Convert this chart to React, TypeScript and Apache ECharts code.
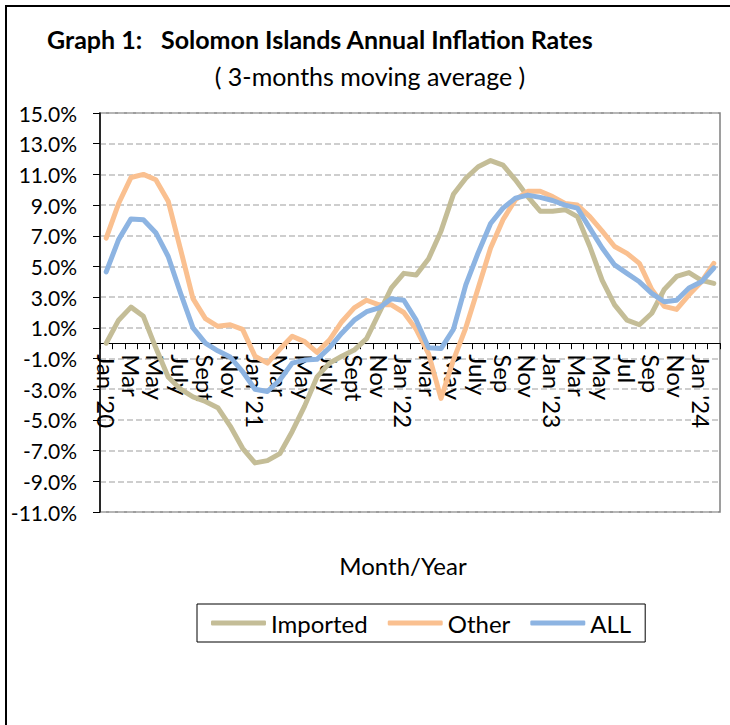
import React, { useEffect, useRef } from 'react';
import * as echarts from 'echarts';

const categories = [
  '2020-01', '2020-02', '2020-03', '2020-04', '2020-05', '2020-06', '2020-07', '2020-08', '2020-09', '2020-10', '2020-11', '2020-12',
  '2021-01', '2021-02', '2021-03', '2021-04', '2021-05', '2021-06', '2021-07', '2021-08', '2021-09', '2021-10', '2021-11', '2021-12',
  '2022-01', '2022-02', '2022-03', '2022-04', '2022-05', '2022-06', '2022-07', '2022-08', '2022-09', '2022-10', '2022-11', '2022-12',
  '2023-01', '2023-02', '2023-03', '2023-04', '2023-05', '2023-06', '2023-07', '2023-08', '2023-09', '2023-10', '2023-11', '2023-12',
  '2024-01', '2024-02',
];

const tickLabels = [
  "Jan '20", 'Mar', 'May', 'July', 'Sept', 'Nov',
  "Jan '21", 'Mar', 'May', 'July', 'Sept', 'Nov',
  "Jan '22", 'Mar', 'May', 'July', 'Sep', 'Nov',
  "Jan '23", 'Mar', 'May', 'Jul', 'Sep', 'Nov',
  "Jan '24",
];

const imported = [
  0.0, 1.5, 2.35, 1.75, -0.3, -2.2, -3.0, -3.5, -3.8, -4.2, -5.4, -6.85,
  -7.8, -7.65, -7.2, -5.75, -4.1, -2.2, -1.3, -0.85, -0.45, 0.3, 1.95, 3.6,
  4.55, 4.45, 5.5, 7.3, 9.7, 10.75, 11.5, 11.9, 11.6, 10.65, 9.55, 8.6,
  8.6, 8.7, 8.25, 6.3, 4.1, 2.5, 1.5, 1.2, 1.95, 3.5, 4.35, 4.6,
  4.1, 3.9,
];

const other = [
  6.85, 9.1, 10.8, 11.0, 10.65, 9.25, 6.1, 2.9, 1.6, 1.1, 1.2, 0.9,
  -0.85, -1.3, -0.4, 0.45, 0.1, -0.6, 0.2, 1.4, 2.3, 2.8, 2.5, 2.5,
  2.0, 0.9, -0.7, -3.6, -1.1, 1.0, 3.6, 6.2, 8.05, 9.35, 9.9, 9.9,
  9.55, 9.1, 9.0, 8.25, 7.3, 6.3, 5.85, 5.2, 3.5, 2.4, 2.2, 3.15,
  4.0, 5.2,
];

const all = [
  4.65, 6.75, 8.1, 8.05, 7.2, 5.65, 3.25, 1.0, 0.0, -0.5, -0.9, -1.85,
  -3.0, -3.15, -2.4, -1.3, -1.1, -1.05, -0.3, 0.65, 1.5, 2.05, 2.3, 2.9,
  2.8, 1.5, -0.3, -0.35, 0.9, 3.8, 5.9, 7.8, 8.8, 9.45, 9.65, 9.5,
  9.3, 9.0, 8.8, 7.5, 6.2, 5.1, 4.55, 4.0, 3.25, 2.7, 2.8, 3.6,
  4.0, 4.9,
];

const seriesNames = ['Imported', 'Other', 'ALL'];
const seriesColors = ['#C4BD97', '#FAC090', '#8DB4E2'];

const FONT = 'Lato';
const Y_MIN = -11;
const Y_MAX = 15;
const GRID_TOP = 113;
const GRID_BOTTOM = 213;
const CHART_H = 725;

export default function App() {
  const ref = useRef<HTMLDivElement>(null);

  useEffect(() => {
    const chart = echarts.init(ref.current!, null, { renderer: 'svg' });
    const datasets = [imported, other, all];
    const plotH = CHART_H - GRID_TOP - GRID_BOTTOM;
    // distance from bottom of plot to the 0% line, so the category axis sits at zero
    const zeroOffset = (plotH * (0 - Y_MIN)) / (Y_MAX - Y_MIN);
    const option: any = {
      animation: false,
      backgroundColor: '#ffffff',
      textStyle: { fontFamily: FONT },
      grid: {
        left: 100,
        right: 10,
        top: GRID_TOP,
        bottom: GRID_BOTTOM,
        show: true,
        borderColor: '#7f7f7f',
        borderWidth: 1.5,
        containLabel: false,
      },
      legend: {
        left: 197,
        top: 604,
        orient: 'horizontal',
        data: seriesNames,
        icon: 'roundRect',
        itemWidth: 55,
        itemHeight: 5,
        itemGap: 20,
        padding: [7, 14],
        borderColor: '#000000',
        borderWidth: 1,
        textStyle: { fontFamily: FONT, fontSize: 24, color: '#000000' },
      },
      xAxis: {
        type: 'category',
        data: categories,
        boundaryGap: true,
        position: 'bottom',
        offset: -zeroOffset,
        axisLine: { onZero: false, lineStyle: { color: '#000000', width: 1 } },
        axisTick: { show: true, inside: false, length: 6, interval: 0, alignWithLabel: false, lineStyle: { color: '#000000', width: 1 } },
        axisLabel: {
          interval: 0,
          rotate: -90,
          margin: 11,
          fontFamily: FONT,
          fontSize: 24,
          color: '#000000',
          formatter: (_v: string, idx: number) => (idx % 2 === 0 ? tickLabels[idx / 2] : ''),
        },
        splitLine: { show: false },
      },
      yAxis: {
        type: 'value',
        min: Y_MIN,
        max: Y_MAX,
        interval: 2,
        axisLine: { show: true, lineStyle: { color: '#000000', width: 1.5 } },
        axisTick: { show: true, inside: false, length: 7, lineStyle: { color: '#000000', width: 1 } },
        axisLabel: {
          margin: 23,
          fontFamily: FONT,
          fontSize: 21,
          color: '#000000',
          formatter: (v: number) => v.toFixed(1) + '%',
        },
        splitLine: { show: true, lineStyle: { color: '#bfbfbf', width: 1.5, type: [6, 3] } },
      },
      series: seriesNames.map((name, k) => ({
        name,
        type: 'line',
        data: datasets[k],
        showSymbol: false,
        symbol: 'none',
        smooth: false,
        color: seriesColors[k],
        lineStyle: { color: seriesColors[k], width: 5, cap: 'round', join: 'round' },
        z: 3 + k,
      })),
      graphic: [
        {
          type: 'rect',
          shape: { x: 6, y: 6, width: 800, height: 800 },
          style: { fill: 'none', stroke: '#000000', lineWidth: 2 },
          z: 0,
          silent: true,
        },
        {
          type: 'text',
          x: 47,
          y: 38.5,
          style: { text: 'Graph 1:', fontFamily: FONT, fontSize: 25, fontWeight: 'bold', fill: '#000000', textAlign: 'left', textVerticalAlign: 'middle' },
        },
        {
          type: 'text',
          x: 161,
          y: 38.5,
          style: { text: 'Solomon Islands Annual Inflation Rates', fontFamily: FONT, fontSize: 25, fontWeight: 'bold', fill: '#000000', textAlign: 'left', textVerticalAlign: 'middle' },
        },
        {
          type: 'text',
          x: 370,
          y: 76,
          style: { text: '( 3-months moving average )', fontFamily: FONT, fontSize: 25, fill: '#000000', textAlign: 'center', textVerticalAlign: 'middle' },
        },
        {
          type: 'text',
          x: 403,
          y: 565,
          style: { text: 'Month/Year', fontFamily: FONT, fontSize: 24, fill: '#000000', textAlign: 'center', textVerticalAlign: 'middle' },
        },
      ],
    };
    chart.setOption(option);
    return () => chart.dispose();
  }, []);

  return (
    <div
      ref={ref}
      style={{ position: 'absolute', left: 0, top: 0, width: 730, height: 725, background: '#ffffff' }}
    />
  );
}
